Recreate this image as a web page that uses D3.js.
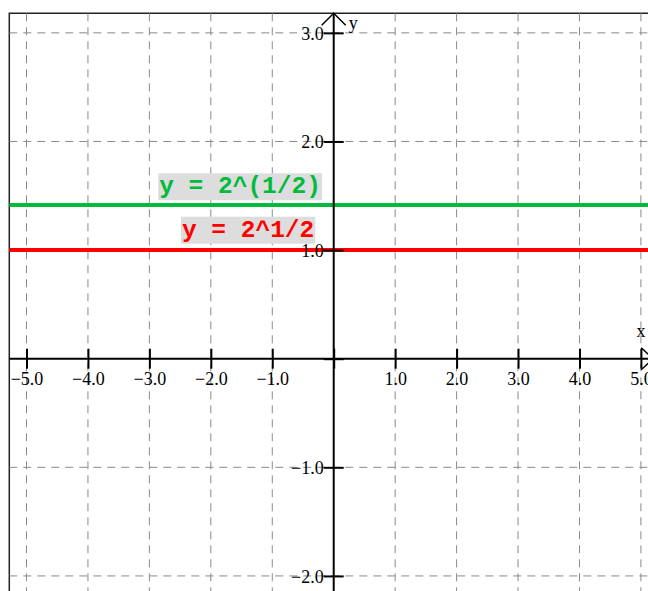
<!DOCTYPE html>
<html>
<head>
<meta charset="utf-8">
<script src="https://cdn.jsdelivr.net/npm/d3@7"></script>
<style>
  html, body { margin: 0; padding: 0; background: #fff; }
  svg { display: block; }
</style>
</head>
<body>
<script>
// ---- data ----
const xTicks = [-5, -4, -3, -2, -1, 0, 1, 2, 3, 4, 5];
const yTicks = [-2, -1, 0, 1, 2, 3];
const seriesNames = ["y = 2^(1/2)", "y = 2^1/2"];
const seriesValues = [1.414, 1.0];
const seriesColors = ["#00bb3c", "#ff0000"];
// label anchors (data coords: x start, baseline y)
const labelX = [-2.84, -2.47];
const labelY = [1.523, 1.123];

// ---- layout ----
const W = 648, H = 591;
const svg = d3.select("body").append("svg").attr("width", W).attr("height", H);

const x = d3.scaleLinear().domain([-5.28, 5.2]).range([9.3, 653.2]);
const y = d3.scaleLinear().domain([-3.18, 3.18]).range([704.1, 13.3]);
const fmt = d3.format(".1f");

// frame (left & top)
svg.append("path")
  .attr("d", `M${x(-5.28)},${H + 5}V${y(3.18)}H${W + 20}`)
  .attr("fill", "none").attr("stroke", "#222").attr("stroke-width", 1.5);

// grid
const grid = svg.append("g").attr("stroke", "#8a8a8a").attr("stroke-width", 1)
  .attr("stroke-dasharray", "8,6");
grid.selectAll("line.v").data(xTicks.filter(d => d !== 0)).join("line")
  .attr("x1", d => x(d)).attr("x2", d => x(d))
  .attr("y1", y(3.18)).attr("y2", y(-3.18));
grid.selectAll("line.h").data(yTicks.filter(d => d !== 0)).join("line")
  .attr("y1", d => y(d)).attr("y2", d => y(d))
  .attr("x1", x(-5.28)).attr("x2", W + 20);

// function lines
svg.append("g").selectAll("line").data(seriesValues).join("line")
  .attr("x1", x(-5.28)).attr("x2", W + 20)
  .attr("y1", d => y(d)).attr("y2", d => y(d))
  .attr("stroke", (d, i) => seriesColors[i]).attr("stroke-width", 4);

// axes
const x0 = x(0), y0 = y(0);
const xAxis = d3.axisBottom(x).tickValues(xTicks).tickSizeOuter(0).tickSize(10)
  .tickFormat(d => d === 0 ? "" : fmt(d));
const gx = svg.append("g").attr("transform", `translate(0,${y0})`).call(xAxis);
gx.select(".domain").remove();
gx.selectAll(".tick line").attr("y1", -10).attr("y2", 10).attr("stroke", "#000").attr("stroke-width", 2);
gx.selectAll(".tick text").attr("y", 26).attr("dy", null)
  .attr("font-family", "'Liberation Serif', 'Times New Roman', serif").attr("font-size", 18).attr("fill", "#000");

const yAxis = d3.axisLeft(y).tickValues(yTicks).tickSizeOuter(0).tickSize(10)
  .tickFormat(d => d === 0 ? "" : fmt(d));
const gy = svg.append("g").attr("transform", `translate(${x0},0)`).call(yAxis);
gy.select(".domain").remove();
gy.selectAll(".tick line").attr("x1", -10).attr("x2", 10).attr("stroke", "#000").attr("stroke-width", 2);
gy.selectAll(".tick text").attr("x", -10).attr("dy", "0.35em")
  .attr("font-family", "'Liberation Serif', 'Times New Roman', serif").attr("font-size", 18).attr("fill", "#000");

// axis lines
const xEnd = x(5.2), yTop = y(3.18);
svg.append("line").attr("x1", x(-5.28)).attr("x2", xEnd).attr("y1", y0).attr("y2", y0)
  .attr("stroke", "#000").attr("stroke-width", 2);
svg.append("line").attr("x1", x0).attr("x2", x0).attr("y1", yTop).attr("y2", H + 10)
  .attr("stroke", "#000").attr("stroke-width", 2);
// arrow heads (open chevrons)
svg.append("path").attr("d", `M${xEnd - 12},${y0 - 11}L${xEnd},${y0}L${xEnd - 12},${y0 + 11}`)
  .attr("fill", "none").attr("stroke", "#000").attr("stroke-width", 1.5);
svg.append("path").attr("d", `M${x0 - 12},${yTop + 12}L${x0},${yTop}L${x0 + 12},${yTop + 12}`)
  .attr("fill", "none").attr("stroke", "#000").attr("stroke-width", 1.5);
// axis names
svg.append("text").attr("x", x(5)).attr("y", y0 - 22).attr("text-anchor", "middle")
  .attr("font-family", "'Liberation Serif', serif").attr("font-size", 18).text("x");
svg.append("text").attr("x", x0 + 15).attr("y", yTop + 16)
  .attr("font-family", "'Liberation Serif', serif").attr("font-size", 18).text("y");

// series labels with background
seriesNames.forEach((name, i) => {
  const g = svg.append("g");
  const t = g.append("text")
    .attr("x", x(labelX[i])).attr("y", y(labelY[i]))
    .attr("font-family", "'Liberation Mono', 'Courier New', monospace")
    .attr("font-weight", "bold").attr("font-size", 24.5)
    .attr("fill", seriesColors[i]).text(name);
  const bb = t.node().getBBox();
  g.insert("rect", "text")
    .attr("x", bb.x - 1).attr("y", bb.y).attr("width", bb.width + 2).attr("height", bb.height)
    .attr("fill", "#dddddd");
});
</script>
</body>
</html>
